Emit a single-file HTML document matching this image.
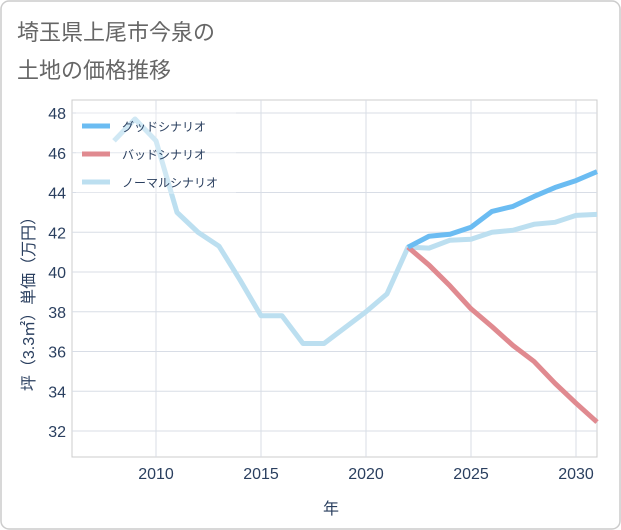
<!DOCTYPE html>
<html><head><meta charset="utf-8"><style>
body{margin:0;background:#fff;font-family:"Liberation Sans","Noto Sans CJK JP",sans-serif;}
#wrap{position:relative;width:621px;height:530px;overflow:hidden;}
</style></head><body>
<div id="wrap">
<svg id="svg" width="621" height="530" xmlns="http://www.w3.org/2000/svg">
<rect x="1" y="1" width="619" height="528" rx="8" fill="#fff" stroke="#ccc" stroke-width="1.5"/>
<text x="17" y="40" font-size="22" fill="#666" font-family="Liberation Sans, Noto Sans CJK JP, sans-serif">埼玉県上尾市今泉の</text>
<text x="17" y="78" font-size="22" fill="#666" font-family="Liberation Sans, Noto Sans CJK JP, sans-serif">土地の価格推移</text>
<g id="grid"></g><g id="legend"></g><g id="series"></g><g id="axes"></g>
<text x="331" y="514" font-size="16" fill="#2a3f5f" text-anchor="middle" font-family="Liberation Sans, Noto Sans CJK JP, sans-serif">年</text>
<text transform="translate(34,300) rotate(-90)" font-size="16" fill="#2a3f5f" text-anchor="middle" font-family="Liberation Sans, Noto Sans CJK JP, sans-serif">坪（3.3㎡）単価（万円）</text>
<g id="legendtop"></g>
</svg>
</div>
<script>
const years=[2008,2009,2010,2011,2012,2013,2014,2015,2016,2017,2018,2019,2020,2021,2022,2023,2024,2025,2026,2027,2028,2029,2030,2031];
const normal=[46.6,47.7,46.6,43.0,42.0,41.3,39.6,37.8,37.8,36.4,36.4,37.2,38.0,38.9,41.25,41.2,41.6,41.65,42.0,42.1,42.4,42.5,42.85,42.9];
const goodYears=[2022,2023,2024,2025,2026,2027,2028,2029,2030,2031];
const good=[41.25,41.8,41.9,42.25,43.05,43.3,43.8,44.25,44.6,45.05];
const bad=[41.25,40.35,39.3,38.15,37.25,36.3,35.5,34.4,33.4,32.45];
const xTicks=[2010,2015,2020,2025,2030];
const yTicks=[32,34,36,38,40,42,44,46,48];
const seriesNames=["グッドシナリオ","バッドシナリオ","ノーマルシナリオ"];
const NS="http://www.w3.org/2000/svg";
const L=72,R=597,T=100,B=457;
const X=v=>L+(v-2006)/(2031-2006)*(R-L);
const Y=v=>113+(48-v)*(431-113)/16;
function mk(tag,at,parent){const e=document.createElementNS(NS,tag);for(const k in at)e.setAttribute(k,at[k]);document.getElementById(parent).appendChild(e);return e;}
const g=mk("rect",{x:L,y:T,width:R-L,height:B-T,fill:"none",stroke:"#ccc"},"grid");


xTicks.forEach(t=>{const l=mk("line",{x1:X(t),x2:X(t),y1:T,y2:B,stroke:"#d8dde6"},"grid");


const tx=mk("text",{x:X(t),y:479,"font-size":16,fill:"#2a3f5f","text-anchor":"middle"},"axes");tx.textContent=t;

});
yTicks.forEach(t=>{const l=mk("line",{x1:L,x2:R,y1:Y(t),y2:Y(t),stroke:"#d8dde6"},"grid");


const tx=mk("text",{x:66,y:Y(t)+6,"font-size":16,fill:"#2a3f5f","text-anchor":"end"},"axes");tx.textContent=t;

});
function line(xs,ys,color,name){const p=mk("polyline",{points:xs.map((x,i)=>X(x)+","+Y(ys[i])).join(" "),fill:"none",stroke:color,"stroke-width":5,"stroke-linejoin":"round"},"series");

}
line(years,normal,"#bcdff0","normal-series-line");
line(goodYears,bad,"#e08a90","bad-series-line");
line(goodYears,good,"#6bbcf2","good-series-line");
const lb=mk("rect",{x:76,y:110,width:160,height:84,fill:"#fff","fill-opacity":0.3},"legendtop");


const cols=["#6bbcf2","#e08a90","#bcdff0"];
seriesNames.forEach((n,i)=>{const y=126+i*28;
const l=mk("line",{x1:82,x2:110,y1:y,y2:y,stroke:cols[i],"stroke-width":5},"legendtop");


const t=mk("text",{x:122,y:y+5,"font-size":12,fill:"#2a3f5f"},"legendtop");t.textContent=n;

});
</script>
</body></html>
